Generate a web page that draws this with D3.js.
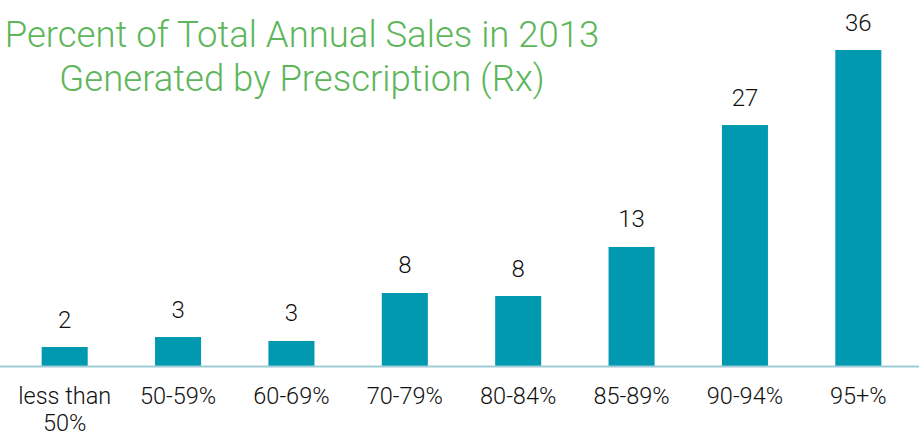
<!DOCTYPE html>
<html>
<head>
<meta charset="utf-8">
<script src="https://cdn.jsdelivr.net/npm/d3@7"></script>
<style>
  body { margin: 0; background: #fff; }
  svg { display: block; font-family: Roboto, "Liberation Sans", sans-serif; font-weight: 300; }
</style>
</head>
<body>
<svg id="chart" width="919" height="436"></svg>
<script>
const categories = ['less than 50%', '50-59%', '60-69%', '70-79%', '80-84%', '85-89%', '90-94%', '95+%']
const values = [2.19, 3.31, 2.87, 8.26, 7.92, 13.43, 27.13, 35.56]
const titleLines = ['Percent of Total Annual Sales in 2013', 'Generated by Prescription (Rx)']

const svg = d3.select('#chart')
const baseY = 366.5

const x = d3
  .scaleBand()
  .domain(categories)
  .range([8, 915])
  .paddingInner(0.594)
  .paddingOuter(0.297)

const y = d3
  .scaleLinear()
  .domain([0, 40])
  .range([baseY, baseY - 40 * 8.9])

const data = categories.map((c, i) => ({ cat: c, val: values[i] }))

// title
svg
  .append('g')
  .selectAll('text')
  .data(titleLines)
  .join('text')
  .attr('x', 302)
  .attr('y', (d, i) => 47 + i * 44)
  .attr('text-anchor', 'middle')
  .attr('fill', '#5db65a')
  .style('font-size', '36.5px')
  .text(d => d)

// bars
svg
  .append('g')
  .selectAll('rect')
  .data(data)
  .join('rect')
  .attr('x', d => x(d.cat))
  .attr('y', d => y(d.val))
  .attr('width', x.bandwidth())
  .attr('height', d => y(0) - y(d.val))
  .attr('fill', '#0099b0')

// value labels
svg
  .append('g')
  .selectAll('text')
  .data(data)
  .join('text')
  .attr('x', d => x(d.cat) + x.bandwidth() / 2)
  .attr('y', d => y(d.val) - 19.5)
  .attr('text-anchor', 'middle')
  .attr('fill', '#111')
  .style('font-size', '24px')
  .text(d => Math.round(d.val))

// x axis
const xAxis = d3.axisBottom(x).tickSize(0).tickPadding(0)
const gx = svg
  .append('g')
  .attr('transform', `translate(0,${baseY})`)
  .call(xAxis)

gx.select('.domain')
  .attr('d', `M0,0H919`)
  .attr('stroke', '#9ecbd5')
  .attr('stroke-width', 2)

gx.selectAll('.tick text').remove()
gx.selectAll('.tick')
  .append('text')
  .attr('text-anchor', 'middle')
  .attr('fill', '#111')
  .style('font-size', '23.5px')
  .style('font-family', 'Roboto, "Liberation Sans", sans-serif')
  .style('font-weight', 300)
  .each(function (d) {
    const words = d === 'less than 50%' ? ['less than', '50%'] : [d]
    d3.select(this)
      .selectAll('tspan')
      .data(words)
      .join('tspan')
      .attr('x', 0)
      .attr('y', (w, i) => 37.5 + i * 26.5)
      .text(w => w)
  })
</script>
</body>
</html>
